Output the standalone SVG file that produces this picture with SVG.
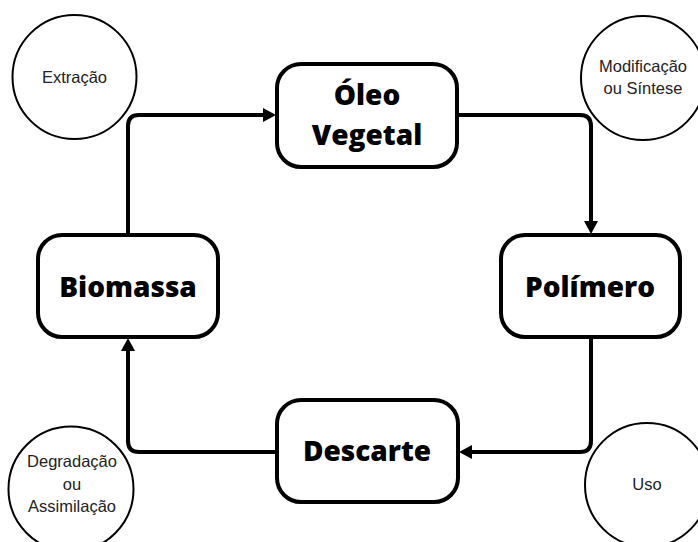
<svg xmlns="http://www.w3.org/2000/svg" width="698" height="542" viewBox="0 0 698 542">
<style>
.box{fill:#fff;stroke:#000;stroke-width:4}
.circ{fill:#fff;stroke:#000;stroke-width:2}
.bt{font-family:"Open Sans","DejaVu Sans",sans-serif;font-weight:800;font-size:28px;fill:#000;text-anchor:middle}
.st{font-family:"Liberation Sans",Arial,sans-serif;font-size:16.5px;fill:#222;text-anchor:middle}
.con{fill:none;stroke:#000;stroke-width:4;stroke-linejoin:round}
</style>
<defs>
<marker id="ah" markerUnits="userSpaceOnUse" markerWidth="14" markerHeight="16" refX="0" refY="8" orient="auto" viewBox="0 0 14 16">
<path d="M0,1 L13,8 L0,15 Z" fill="#000"/>
</marker>
</defs>
<rect width="698" height="542" fill="#fff"/>
<g id="connectors">
<path class="con" d="M128,235 L128,126 Q128,115 139,115 L263,115" marker-end="url(#ah)"/>
<path class="con" d="M458,115 L580,115 Q591,115 591,126 L591,221" marker-end="url(#ah)"/>
<path class="con" d="M591,337 L591,441 Q591,452 580,452 L472,452" marker-end="url(#ah)"/>
<path class="con" d="M276,452 L139,452 Q128,452 128,441 L128,351" marker-end="url(#ah)"/>
</g>
<g id="extracao">
<circle class="circ" cx="74.5" cy="77" r="62"/>
<text class="st" x="74.5" y="83">Extração</text>
</g>
<g id="modificacao">
<circle class="circ" cx="643" cy="78" r="62"/>
<text class="st" x="643" y="72">Modificação</text>
<text class="st" x="643" y="94">ou Síntese</text>
</g>
<g id="degradacao">
<circle class="circ" cx="71" cy="489" r="62.5"/>
<text class="st" x="72" y="467">Degradação</text>
<text class="st" x="72" y="490">ou</text>
<text class="st" x="72" y="512">Assimilação</text>
</g>
<g id="uso">
<circle class="circ" cx="647" cy="485" r="62"/>
<text class="st" x="647" y="490">Uso</text>
</g>
<g id="oleo">
<rect class="box" x="277" y="64" width="180" height="103" rx="24"/>
<text class="bt" x="367" y="105">Óleo</text>
<text class="bt" x="367" y="145">Vegetal</text>
</g>
<g id="biomassa">
<rect class="box" x="38" y="235" width="180" height="102" rx="24"/>
<text class="bt" x="128" y="297">Biomassa</text>
</g>
<g id="polimero">
<rect class="box" x="501" y="235" width="179" height="102" rx="24"/>
<text class="bt" x="590" y="297">Polímero</text>
</g>
<g id="descarte">
<rect class="box" x="277" y="400" width="181" height="102" rx="24"/>
<text class="bt" x="367" y="461">Descarte</text>
</g>
</svg>
